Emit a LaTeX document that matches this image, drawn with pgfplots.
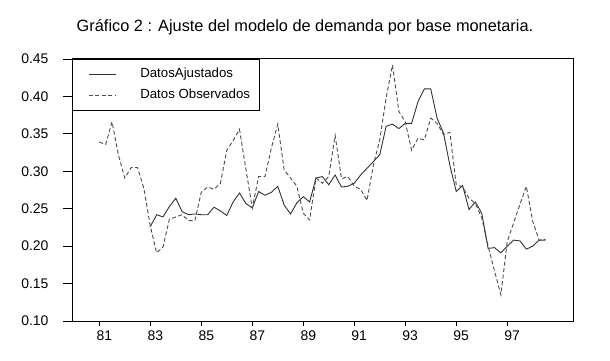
\documentclass[border=0pt]{standalone}
\usepackage{pgfplots}
\pgfplotsset{compat=1.18}
\usepackage{fontspec}
\setmainfont{Liberation Sans}
\pgfplotstableread{
t v
81.00 0.339
81.25 0.336
81.50 0.366
81.75 0.322
82.00 0.291
82.25 0.305
82.50 0.305
82.75 0.277
83.00 0.227
83.25 0.191
83.50 0.199
83.75 0.236
84.00 0.239
84.25 0.242
84.50 0.234
84.75 0.234
85.00 0.272
85.25 0.279
85.50 0.276
85.75 0.284
86.00 0.328
86.25 0.341
86.50 0.356
86.75 0.303
87.00 0.251
87.25 0.293
87.50 0.293
87.75 0.331
88.00 0.363
88.25 0.302
88.50 0.291
88.75 0.280
89.00 0.244
89.25 0.235
89.50 0.291
89.75 0.284
90.00 0.293
90.25 0.348
90.50 0.290
90.75 0.293
91.00 0.280
91.25 0.276
91.50 0.261
91.75 0.308
92.00 0.342
92.25 0.398
92.50 0.442
92.75 0.380
93.00 0.366
93.25 0.328
93.50 0.344
93.75 0.342
94.00 0.371
94.25 0.364
94.50 0.349
94.75 0.352
95.00 0.282
95.25 0.279
95.50 0.264
95.75 0.257
96.00 0.238
96.25 0.200
96.50 0.167
96.75 0.135
97.00 0.206
97.25 0.231
97.50 0.256
97.75 0.280
98.00 0.233
98.25 0.208
98.50 0.209
}\observados
\pgfplotstableread{
t v
83.00 0.226
83.25 0.242
83.50 0.239
83.75 0.253
84.00 0.264
84.25 0.246
84.50 0.242
84.75 0.243
85.00 0.242
85.25 0.242
85.50 0.252
85.75 0.247
86.00 0.241
86.25 0.259
86.50 0.271
86.75 0.257
87.00 0.251
87.25 0.273
87.50 0.268
87.75 0.272
88.00 0.280
88.25 0.255
88.50 0.243
88.75 0.258
89.00 0.266
89.25 0.259
89.50 0.291
89.75 0.293
90.00 0.282
90.25 0.295
90.50 0.279
90.75 0.280
91.00 0.284
91.25 0.295
91.50 0.304
91.75 0.313
92.00 0.322
92.25 0.360
92.50 0.363
92.75 0.357
93.00 0.364
93.25 0.364
93.50 0.393
93.75 0.410
94.00 0.410
94.25 0.371
94.50 0.351
94.75 0.308
95.00 0.273
95.25 0.281
95.50 0.249
95.75 0.259
96.00 0.244
96.25 0.197
96.50 0.198
96.75 0.191
97.00 0.200
97.25 0.208
97.50 0.207
97.75 0.196
98.00 0.200
98.25 0.208
98.50 0.208
}\ajustados
\begin{document}
\begin{tikzpicture}[x=1bp,y=1bp]
\path[use as bounding box] (0,0) rectangle (610,360);
\node[font=\fontsize{16.4}{20}\selectfont] at (305,333) {Gráfico 2 : Ajuste del modelo de demanda por base monetaria.};
\begin{axis}[
  at={(72bp,39bp)}, anchor=south west,
  scale only axis, width=501bp, height=262bp,
  xmin=79.93, xmax=99.58, ymin=0.10, ymax=0.45,
  axis line style={line width=1bp},
  tick style={line width=0.8bp, black},
  tick align=outside,
  xtick pos=bottom, ytick pos=left,
  major tick length=9bp, minor tick length=3bp,
  xtick=\empty,
  minor xtick={81,81.25,...,98.5},
  extra x ticks={81,83,85,87,89,91,93,95,97},
  extra x tick style={major tick length=5bp},
  xticklabel style={xshift=5bp, yshift=-1bp},
  ytick={0.10,0.15,0.20,0.25,0.30,0.35,0.40,0.45},
  yticklabel style={xshift=-11bp, /pgf/number format/.cd, fixed, fixed zerofill, precision=2},
  /pgf/number format/assume math mode=true,
  ticklabel style={font=\fontsize{14}{16}\selectfont},
  clip=false,
  legend cell align=left,
  legend style={at={(0,1)}, anchor=north west, draw=black, line width=0.8bp, fill=white,
    font=\fontsize{13.3}{15}\selectfont, inner xsep=9bp, inner ysep=9bp, row sep=8.5bp,
    nodes={inner sep=0pt, text height=9.5bp, text depth=2.8bp},
    /tikz/every odd column/.append style={column sep=24bp}},
  legend image code/.code={\path (0bp,0bp); \draw[#1] (7bp,0bp) -- (34bp,0bp);},
]
\addplot[line width=0.9bp, black!80] table[x=t,y=v] {\ajustados};
\addlegendentry{DatosAjustados}
\addplot[line width=0.9bp, black!70, dash pattern=on 4bp off 2.5bp] table[x=t,y=v] {\observados};
\addlegendentry{Datos Observados}
\end{axis}
\end{tikzpicture}
\end{document}
